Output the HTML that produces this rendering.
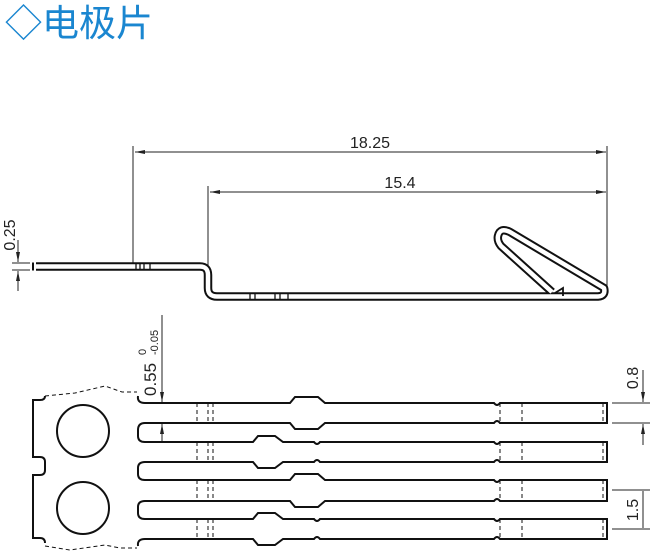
<!DOCTYPE html>
<html><head><meta charset="utf-8"><style>
html,body{margin:0;padding:0;background:#fff;width:650px;height:554px;overflow:hidden}
svg{display:block}
text{font-family:"Liberation Sans",sans-serif;fill:#222}
</style></head><body>
<svg width="650" height="554" viewBox="0 0 650 554" xmlns="http://www.w3.org/2000/svg">
<defs>
<marker id="a" markerWidth="10" markerHeight="6" refX="10" refY="3" orient="auto" markerUnits="userSpaceOnUse"><path d="M0,1 L10,3 L0,5 Z" fill="#222"/></marker>
</defs>
<text x="5" y="36" style="font-family:'Liberation Sans','Noto Sans CJK SC',sans-serif;font-size:37px;fill:#1a86d0">◇电极片</text>

<!-- dimensions top -->
<g stroke="#222" stroke-width="1" fill="none">
<line x1="133" y1="146" x2="133" y2="266"/>
<line x1="607" y1="146" x2="607" y2="292"/>
<line x1="208" y1="186" x2="208" y2="268"/>
<line x1="370" y1="152" x2="135" y2="152" marker-end="url(#a)"/>
<line x1="370" y1="152" x2="606" y2="152" marker-end="url(#a)"/>
<line x1="400" y1="192" x2="210" y2="192" marker-end="url(#a)"/>
<line x1="400" y1="192" x2="606" y2="192" marker-end="url(#a)"/>
<!-- 0.25 -->
<line x1="18" y1="240" x2="18" y2="262" marker-end="url(#a)"/>
<line x1="18" y1="291" x2="18" y2="271" marker-end="url(#a)"/>
<line x1="12" y1="263" x2="30" y2="263"/>
<line x1="12" y1="270" x2="30" y2="270"/>
<!-- 0.55 -->
<line x1="162" y1="315" x2="162" y2="402" marker-end="url(#a)"/>
<line x1="162" y1="442" x2="162" y2="424" marker-end="url(#a)"/>
<!-- 0.8 -->
<line x1="612" y1="403" x2="650" y2="403"/>
<line x1="612" y1="423" x2="650" y2="423"/>
<line x1="643" y1="370" x2="643" y2="402" marker-end="url(#a)"/>
<line x1="643" y1="445" x2="643" y2="424" marker-end="url(#a)"/>
<!-- 1.5 -->
<line x1="612" y1="490" x2="650" y2="490"/>
<line x1="612" y1="529" x2="650" y2="529"/>
<line x1="643" y1="491" x2="643" y2="528"/>
</g>
<text x="370" y="148" font-size="16" text-anchor="middle">18.25</text>
<text x="400" y="188" font-size="16" text-anchor="middle">15.4</text>
<text transform="translate(15,235) rotate(-90)" font-size="16" text-anchor="middle">0.25</text>
<text transform="translate(156,396) rotate(-90)" font-size="17">0.55</text>
<text transform="translate(146,355) rotate(-90)" font-size="11">0</text>
<text transform="translate(158,355) rotate(-90)" font-size="11">-0.05</text>
<text transform="translate(638,378) rotate(-90)" font-size="16" text-anchor="middle">0.8</text>
<text transform="translate(638,510) rotate(-90)" font-size="16" text-anchor="middle">1.5</text>

<!-- side view -->
<path d="M34,266.5 H200 Q208,266.5 208,275 V288 Q208,296.5 217,296.5 H598 Q606,296 604,288 L510,232 Q500,227 498,236 Q497,241 501,246 L552,292" fill="none" stroke="#111" stroke-width="8.5" stroke-linejoin="round"/>
<path d="M34,266.5 H200 Q208,266.5 208,275 V288 Q208,296.5 217,296.5 H598 Q606,296 604,288 L510,232 Q500,227 498,236 Q497,241 501,246 L552,292" fill="none" stroke="#fff" stroke-width="4.5" stroke-linejoin="round"/>
<rect x="32" y="262" width="4" height="9" fill="#fff"/>
<line x1="33" y1="262.5" x2="33" y2="270.5" stroke="#111" stroke-width="2"/>
<path d="M555,293 L563,288 V296" fill="none" stroke="#111" stroke-width="1.8"/>
<g stroke="#111" stroke-width="1.3">
<line x1="136" y1="263" x2="136" y2="270"/><line x1="140" y1="263" x2="140" y2="270"/><line x1="144" y1="263" x2="144" y2="270"/><line x1="150" y1="263" x2="150" y2="270"/>
<line x1="250" y1="293" x2="250" y2="300"/><line x1="255" y1="293" x2="255" y2="300"/><line x1="275" y1="293" x2="275" y2="300"/><line x1="280" y1="293" x2="280" y2="300"/><line x1="288" y1="293" x2="288" y2="300"/>
</g>

<!-- top view carrier -->
<g fill="none" stroke="#111" stroke-width="2">
<path d="M45,396 Q45,400 40,400 H33 V457 H40 Q45,457 45,462 V470 Q45,475 40,475 H33 V538 H40 Q45,538 45,543"/>
<circle cx="83" cy="431" r="26"/>
<circle cx="83" cy="508" r="26"/>
<path d="M138,396 Q137,403 145,403 H193 Q195,403 197,403"/>
<path d="M138,546 Q137,539 145,539 H195"/>
<path d="M197,423 H145 Q138,423 138,430 V436 Q138,442 145,442 H197"/>
<path d="M197,462 H145 Q138,462 138,468 V474 Q138,480 145,480 H197"/>
<path d="M197,501 H145 Q138,501 138,507 V513 Q138,519 145,519 H197"/>
<path d="M195,403 H290 L295,397 H318 L325,403 H494 Q497,407 500,403 H607 V423 H500 Q497,419 494,423 H325 L318,429 H295 L290,423 H195"/>
<path d="M195,442 H253 L258,436 H275 L283,442 H314 Q317,446 320,442 H494 Q497,446 500,442 H607 V462 H500 Q497,458 494,462 H320 Q317,458 314,462 H283 L275,468 H258 L253,462 H195"/>
<path d="M195,480 H290 L295,474 H318 L325,480 H494 Q497,484 500,480 H607 V501 H500 Q497,497 494,501 H325 L318,507 H295 L290,501 H195"/>
<path d="M195,519 H253 L258,513 H275 L283,519 H314 Q317,523 320,519 H494 Q497,523 500,519 H607 V539 H500 Q497,535 494,539 H320 Q317,535 314,539 H283 L275,545 H258 L253,539 H195"/>
</g>
<g fill="none" stroke="#111" stroke-width="1" stroke-dasharray="4,3">
<path d="M45,396 L75,393 L105,386 L122,392 L137,392"/>
<path d="M45,546 L70,550 L105,545 L120,548 L137,548"/>
<path d="M197,403V423 M208,403V423 M213,403V423 M500,403V423 M522,403V423 M603,403V423"/>
<path d="M197,442V462 M208,442V462 M213,442V462 M500,442V462 M522,442V462 M603,442V462"/>
<path d="M197,480V501 M208,480V501 M213,480V501 M500,480V501 M522,480V501 M603,480V501"/>
<path d="M197,519V539 M208,519V539 M213,519V539 M500,519V539 M522,519V539 M603,519V539"/>
</g>
</svg>
</body></html>
